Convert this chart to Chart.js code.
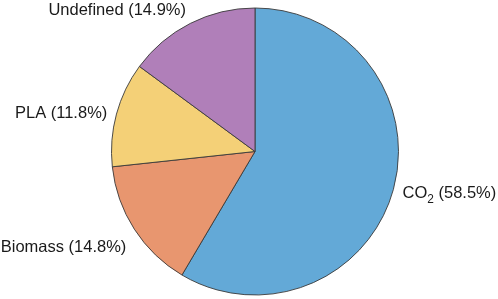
<!DOCTYPE html>
<html>
<head>
<meta charset="utf-8">
<script src="https://cdn.jsdelivr.net/npm/chart.js@4/dist/chart.umd.min.js"></script>
<style>
html,body{margin:0;padding:0;background:#fff;}
canvas{display:block;}
</style>
</head>
<body>
<canvas id="c" width="498" height="299"></canvas>
<script>
const categories = ['CO₂', 'Biomass', 'PLA', 'Undefined'];
const shares = [58.5, 14.8, 11.8, 14.9];
const colors = ['#63A9D7', '#E8966F', '#F4D077', '#B07FB9'];

const SUBS = {'₀':'0','₁':'1','₂':'2','₃':'3','₄':'4','₅':'5','₆':'6','₇':'7','₈':'8','₉':'9'};
const FONT = '"Liberation Sans", Arial, sans-serif';
const FS = 16.5;

function splitRuns(text) {
  const runs = [];
  for (const ch of text) {
    const sub = SUBS[ch] !== undefined;
    const t = sub ? SUBS[ch] : ch;
    if (runs.length && runs[runs.length-1].sub === sub) runs[runs.length-1].t += t;
    else runs.push({t, sub});
  }
  return runs;
}

const labelPlugin = {
  id: 'outerLabels',
  afterDatasetsDraw(chart) {
    const ctx = chart.ctx;
    const meta = chart.getDatasetMeta(0);
    ctx.save();
    ctx.fillStyle = '#1a1a1a';
    meta.data.forEach((arc, i) => {
      const p = arc.getProps(['x','y','startAngle','endAngle','outerRadius'], true);
      const mid = (p.startAngle + p.endAngle) / 2;
      const dx = Math.cos(mid), dy = Math.sin(mid);
      const R = p.outerRadius + 9.5;
      const ax = p.x + dx * R, ay = p.y + dy * R;
      const text = categories[i] + ' (' + shares[i].toFixed(1) + '%)';
      const runs = splitRuns(text);
      let total = 0;
      runs.forEach(r => {
        ctx.font = (r.sub ? FS * 0.72 : FS) + 'px ' + FONT;
        r.w = ctx.measureText(r.t).width;
        total += r.w;
      });
      let baselineY;
      if (Math.abs(dy) < 0.4) baselineY = ay + FS * 0.38;
      else if (dy < 0) baselineY = ay;
      else baselineY = ay + FS * 1.05;
      let x = dx < 0 ? ax - total : ax;
      ctx.textAlign = 'left';
      ctx.textBaseline = 'alphabetic';
      runs.forEach(r => {
        ctx.font = (r.sub ? FS * 0.72 : FS) + 'px ' + FONT;
        ctx.fillText(r.t, x, baselineY + (r.sub ? FS * 0.3 : 0));
        x += r.w;
      });
    });
    ctx.restore();
  }
};

new Chart(document.getElementById('c'), {
  type: 'pie',
  data: {
    labels: categories,
    datasets: [{
      data: shares,
      backgroundColor: colors,
      borderColor: '#3a3a3a',
      borderWidth: 0.9
    }]
  },
  options: {
    responsive: false,
    animation: false,
    radius: 143.5,
    layout: { padding: { left: 12, right: 0, top: 5, bottom: 1 } },
    plugins: { legend: { display: false }, tooltip: { enabled: false } }
  },
  plugins: [labelPlugin]
});
</script>
</body>
</html>
